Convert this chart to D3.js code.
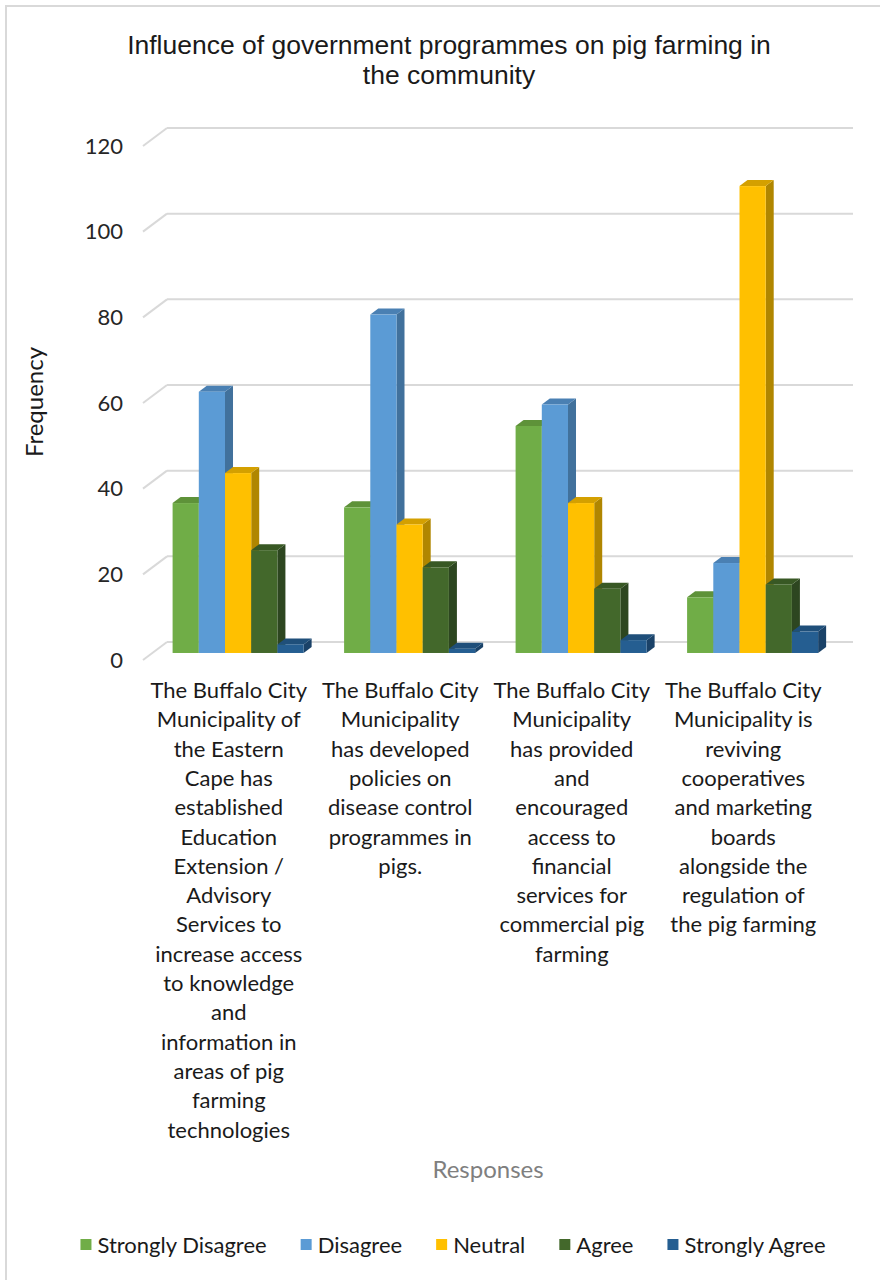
<!DOCTYPE html>
<html>
<head>
<meta charset="utf-8">
<script src="https://cdn.jsdelivr.net/npm/d3@7"></script>
<style>
  body { margin: 0; background: #fff; }
  svg { display: block; }
</style>
</head>
<body>
<div id="chart"></div>
<script>
// chart data
var categories = [
  "The Buffalo City\nMunicipality of\nthe Eastern\nCape has\nestablished\nEducation\nExtension /\nAdvisory\nServices to\nincrease access\nto knowledge\nand\ninformation in\nareas of pig\nfarming\ntechnologies",
  "The Buffalo City\nMunicipality\nhas developed\npolicies on\ndisease control\nprogrammes in\npigs.",
  "The Buffalo City\nMunicipality\nhas provided\nand\nencouraged\naccess to\nfinancial\nservices for\ncommercial pig\nfarming",
  "The Buffalo City\nMunicipality is\nreviving\ncooperatives\nand marketing\nboards\nalongside the\nregulation of\nthe pig farming"
];
var series = ["Strongly Disagree", "Disagree", "Neutral", "Agree", "Strongly Agree"];
var stronglyDisagree = [35, 34, 53, 13];
var disagree = [61, 79, 58, 21];
var neutral = [42, 30, 35, 109];
var agree = [24, 20, 15, 16];
var stronglyAgree = [2, 1, 3, 5];
var yTicks = [0, 20, 40, 60, 80, 100, 120];

var values = [stronglyDisagree, disagree, neutral, agree, stronglyAgree];

// face colours: front, side, top
var colors = [
  ["#70ad47", "#507e32", "#5e9239"],
  ["#5b9bd5", "#41719c", "#4a80b3"],
  ["#ffc000", "#b08600", "#d4a000"],
  ["#43682b", "#2d4620", "#385824"],
  ["#255e91", "#1a4268", "#1f4f7a"]
];

var width = 880, height = 1280;
var font = "Lato, 'Open Sans', sans-serif";

var svg = d3.select("#chart").append("svg")
  .attr("width", width).attr("height", height);

// outer border
svg.append("rect")
  .attr("x", 6).attr("y", 6).attr("width", 890).attr("height", 1290)
  .attr("fill", "#fff").attr("stroke", "#d9d9d9").attr("stroke-width", 2);

// 3d geometry: front plane and wall depth
var DX = 24, DY = -18;
var depthF = 0.39;
var barDX = 8, barDY = -6;

var y = d3.scaleLinear().domain([0, 120]).range([660, 146]);

var x0 = d3.scaleBand().domain(d3.range(categories.length))
  .range([143, 829]).paddingInner(0.236).paddingOuter(0.118);
var x1 = d3.scaleBand().domain(d3.range(series.length))
  .range([0, x0.bandwidth()]);

// gridlines on back wall + diagonal on side wall
var grid = svg.append("g");
yTicks.forEach(function(t) {
  grid.append("line")
    .attr("x1", 143 + DX).attr("x2", 829 + DX)
    .attr("y1", y(t) + DY).attr("y2", y(t) + DY)
    .attr("stroke", "#d9d9d9").attr("stroke-width", 2);
  grid.append("line")
    .attr("x1", 143).attr("y1", y(t))
    .attr("x2", 143 + DX).attr("y2", y(t) + DY)
    .attr("stroke", "#d9d9d9").attr("stroke-width", 2);
});

// tick labels
svg.append("g").selectAll("text")
  .data(yTicks).enter().append("text")
  .attr("x", 123).attr("y", function(d) { return y(d); })
  .attr("dy", "0.35em")
  .attr("text-anchor", "end")
  .attr("font-family", font).attr("font-size", 22)
  .attr("fill", "#262626")
  .text(function(d) { return d; });

// bars
var ox = DX * depthF, oy = DY * depthF;
var bars = svg.append("g");
categories.forEach(function(c, ci) {
  series.forEach(function(s, si) {
    var v = values[si][ci];
    var xl = x0(ci) + x1(si) + ox;
    var xr = xl + x1.bandwidth();
    var yb = y(0) + oy;
    var yt = y(v) + oy;
    var col = colors[si];
    // side face
    bars.append("path")
      .attr("d", "M" + xr + "," + yb + "L" + (xr + barDX) + "," + (yb + barDY) +
        "L" + (xr + barDX) + "," + (yt + barDY) + "L" + xr + "," + yt + "Z")
      .attr("fill", col[1]);
    // top face
    bars.append("path")
      .attr("d", "M" + xl + "," + yt + "L" + (xl + barDX) + "," + (yt + barDY) +
        "L" + (xr + barDX) + "," + (yt + barDY) + "L" + xr + "," + yt + "Z")
      .attr("fill", col[2]);
    // front face
    bars.append("rect")
      .attr("x", xl).attr("y", yt)
      .attr("width", x1.bandwidth()).attr("height", yb - yt)
      .attr("fill", col[0]);
  });
});

// category labels
var lineH = 29.3;
categories.forEach(function(c, ci) {
  var cx = 143 + x0.step() * (ci + 0.5);
  var t = svg.append("text")
    .attr("text-anchor", "middle")
    .attr("font-family", font).attr("font-size", 22)
    .attr("fill", "#1a1a1a");
  c.split("\n").forEach(function(line, li) {
    t.append("tspan").attr("x", cx).attr("y", 698 + li * lineH).text(line);
  });
});

// title
svg.append("text")
  .attr("text-anchor", "middle")
  .attr("font-family", "'Liberation Sans', Arial, sans-serif")
  .attr("font-size", 26.5).attr("fill", "#1a1a1a")
  .selectAll("tspan")
  .data(["Influence of government programmes on pig farming in", "the community"])
  .enter().append("tspan")
  .attr("x", 449).attr("y", function(d, i) { return 54 + i * 30; })
  .text(function(d) { return d; });

// axis titles
svg.append("text")
  .attr("transform", "translate(43,402) rotate(-90)")
  .attr("text-anchor", "middle")
  .attr("font-family", font).attr("font-size", 24)
  .attr("fill", "#1a1a1a")
  .text("Frequency");

svg.append("text")
  .attr("x", 488).attr("y", 1178)
  .attr("text-anchor", "middle")
  .attr("font-family", font).attr("font-size", 24)
  .attr("fill", "#7f7f7f")
  .text("Responses");

// legend
var legend = svg.append("g");
var items = series.map(function(s, si) {
  var g = legend.append("g");
  g.append("rect").attr("width", 11).attr("height", 11)
    .attr("y", -6).attr("fill", colors[si][0]);
  var tx = g.append("text").attr("x", 17).attr("dy", "0.35em")
    .attr("font-family", font).attr("font-size", 22)
    .attr("fill", "#1a1a1a").text(s);
  return { g: g, w: 17 + tx.node().getComputedTextLength() };
});
var gap = 34;
var total = d3.sum(items, function(d) { return d.w; }) + gap * (items.length - 1);
var lx = 453 - total / 2;
items.forEach(function(it) {
  it.g.attr("transform", "translate(" + lx + ",1245)");
  lx += it.w + gap;
});
</script>
</body>
</html>
